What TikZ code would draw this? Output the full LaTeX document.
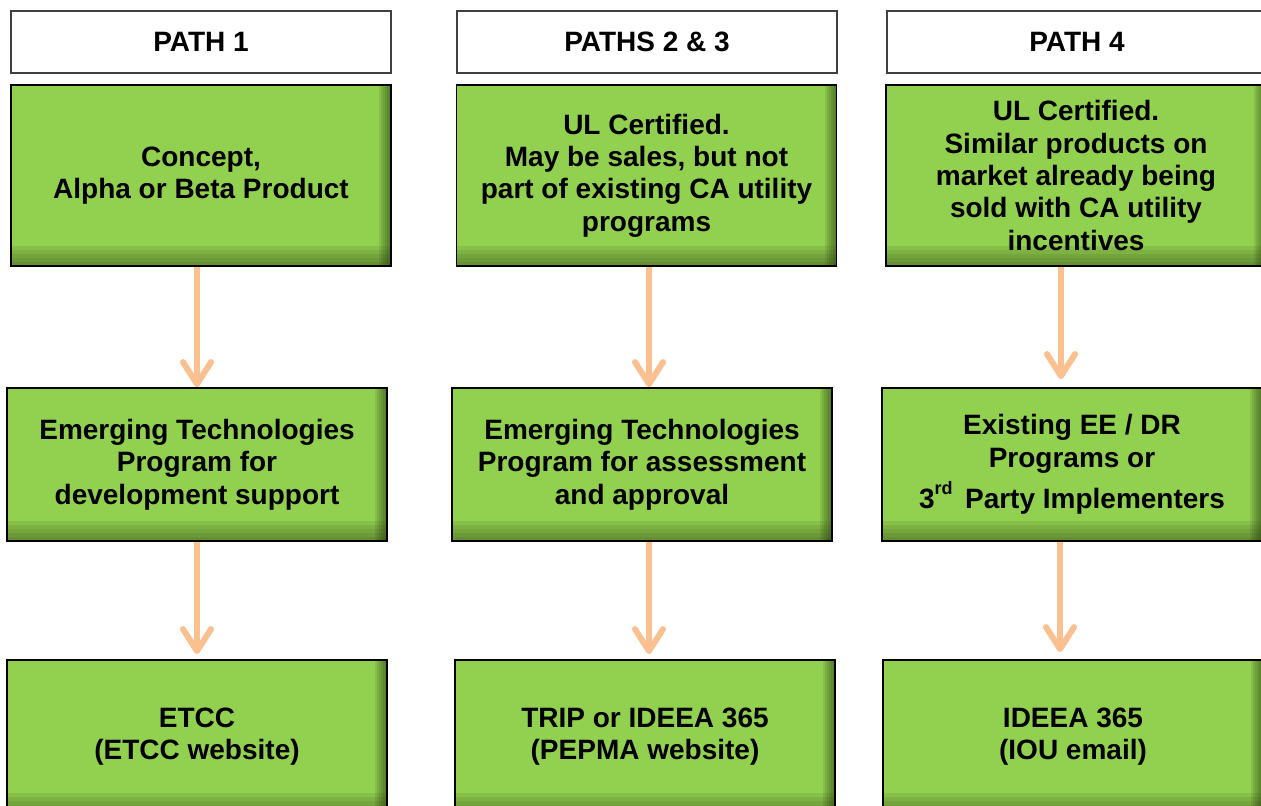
\documentclass[tikz,border=0pt]{standalone}
\usepackage{fontspec}
\setmainfont{Liberation Sans}
\usetikzlibrary{arrows.meta}
\usetikzlibrary{calc}

\definecolor{boxgreen}{RGB}{146,208,80}
\definecolor{boxshade}{RGB}{40,60,15}
\definecolor{headline}{RGB}{64,64,64}
\definecolor{flowpeach}{RGB}{250,192,144}

\tikzset{
  boxfont/.style={font=\fontsize{14pt}{16.2pt}\selectfont\bfseries},
  headbox/.style={rectangle, draw=headline, line width=0.7pt, fill=white, minimum width=190pt, minimum height=31pt, boxfont},
  greenbox/.style={rectangle, draw=black, line width=0.9pt, fill=boxgreen, minimum width=190pt, align=center, boxfont,
    path picture={
      \foreach \i in {2,4,...,10}
        \fill[boxshade, opacity=0.1] ([yshift=\i pt]path picture bounding box.south west) rectangle (path picture bounding box.south east);
      \foreach \i in {1,2,...,6}
        \fill[boxshade, opacity=0.12] ([xshift=-\i pt]path picture bounding box.north east) rectangle (path picture bounding box.south east);
    }},
  flow/.style={draw=flowpeach, line width=3pt, -{Straight Barb[round, length=11pt, width=14pt]}},
}

\begin{document}
\begin{tikzpicture}[x=0.5pt, y=-0.5pt]
      \useasboundingbox (0,0) rectangle (1261,806);
      \clip (0,0) rectangle (1261,806);

      % headers
      \node[headbox] (head1) at (201,42) {PATH 1};
      \node[headbox] (head2) at (647,42) {PATHS 2 \& 3};
      \node[headbox] (head3) at (1077,42) {PATH 4};

      % first row
      \node[greenbox, minimum height=90.5pt] (top1) at (201,175.5) {Concept,\\Alpha or Beta Product};
      \node[greenbox, minimum height=90.5pt] (top2) at (646.5,175.5) {UL Certified.\\May be sales, but not\\part of existing CA utility\\programs};
      \node[greenbox, minimum height=90.5pt] (top3) at (1076,175.5) {UL Certified.\\Similar products on\\market already being\\sold with CA utility\\incentives};

      % second row
      \node[greenbox, minimum height=76.5pt] (mid1) at (197,464.5) {Emerging Technologies\\Program for\\development support};
      \node[greenbox, minimum height=76.5pt] (mid2) at (642,464.5) {Emerging Technologies\\Program for assessment\\and approval};
      \node[greenbox, minimum height=76.5pt] (mid3) at (1072,464.5) {Existing EE / DR\\Programs or\\[3pt]3\raisebox{1.0ex}{\fontsize{9pt}{9pt}\selectfont rd}\,\ Party Implementers};

      % third row
      \node[greenbox, minimum height=76.5pt] (bot1) at (197,736.5) {ETCC\\(ETCC website)};
      \node[greenbox, minimum height=76.5pt] (bot2) at (645,736.5) {TRIP or IDEEA 365\\(PEPMA website)};
      \node[greenbox, minimum height=76.5pt] (bot3) at (1073,736.5) {IDEEA 365\\(IOU email)};

      \draw[flow] (mid1.north |- top1.south) -- (mid1.north);
      \draw[flow, shorten >=2.5pt] (mid1.south) -- (bot1.north);
      \draw[flow] ($(mid2.north |- top2.south)+(3.5pt,0)$) -- ($(mid2.north)+(3.5pt,0)$);
      \draw[flow, shorten >=2.5pt] ($(mid2.south)+(3.5pt,0)$) -- ($(mid2.south |- bot2.north)+(3.5pt,0)$);
      \draw[flow, shorten >=4pt] ($(mid3.north |- top3.south)+(-5.5pt,0)$) -- ($(mid3.north)+(-5.5pt,0)$);
      \draw[flow, shorten >=3.5pt] ($(mid3.south)+(-6pt,0)$) -- ($(mid3.south |- bot3.north)+(-6pt,0)$);
    \end{tikzpicture}
\end{document}
